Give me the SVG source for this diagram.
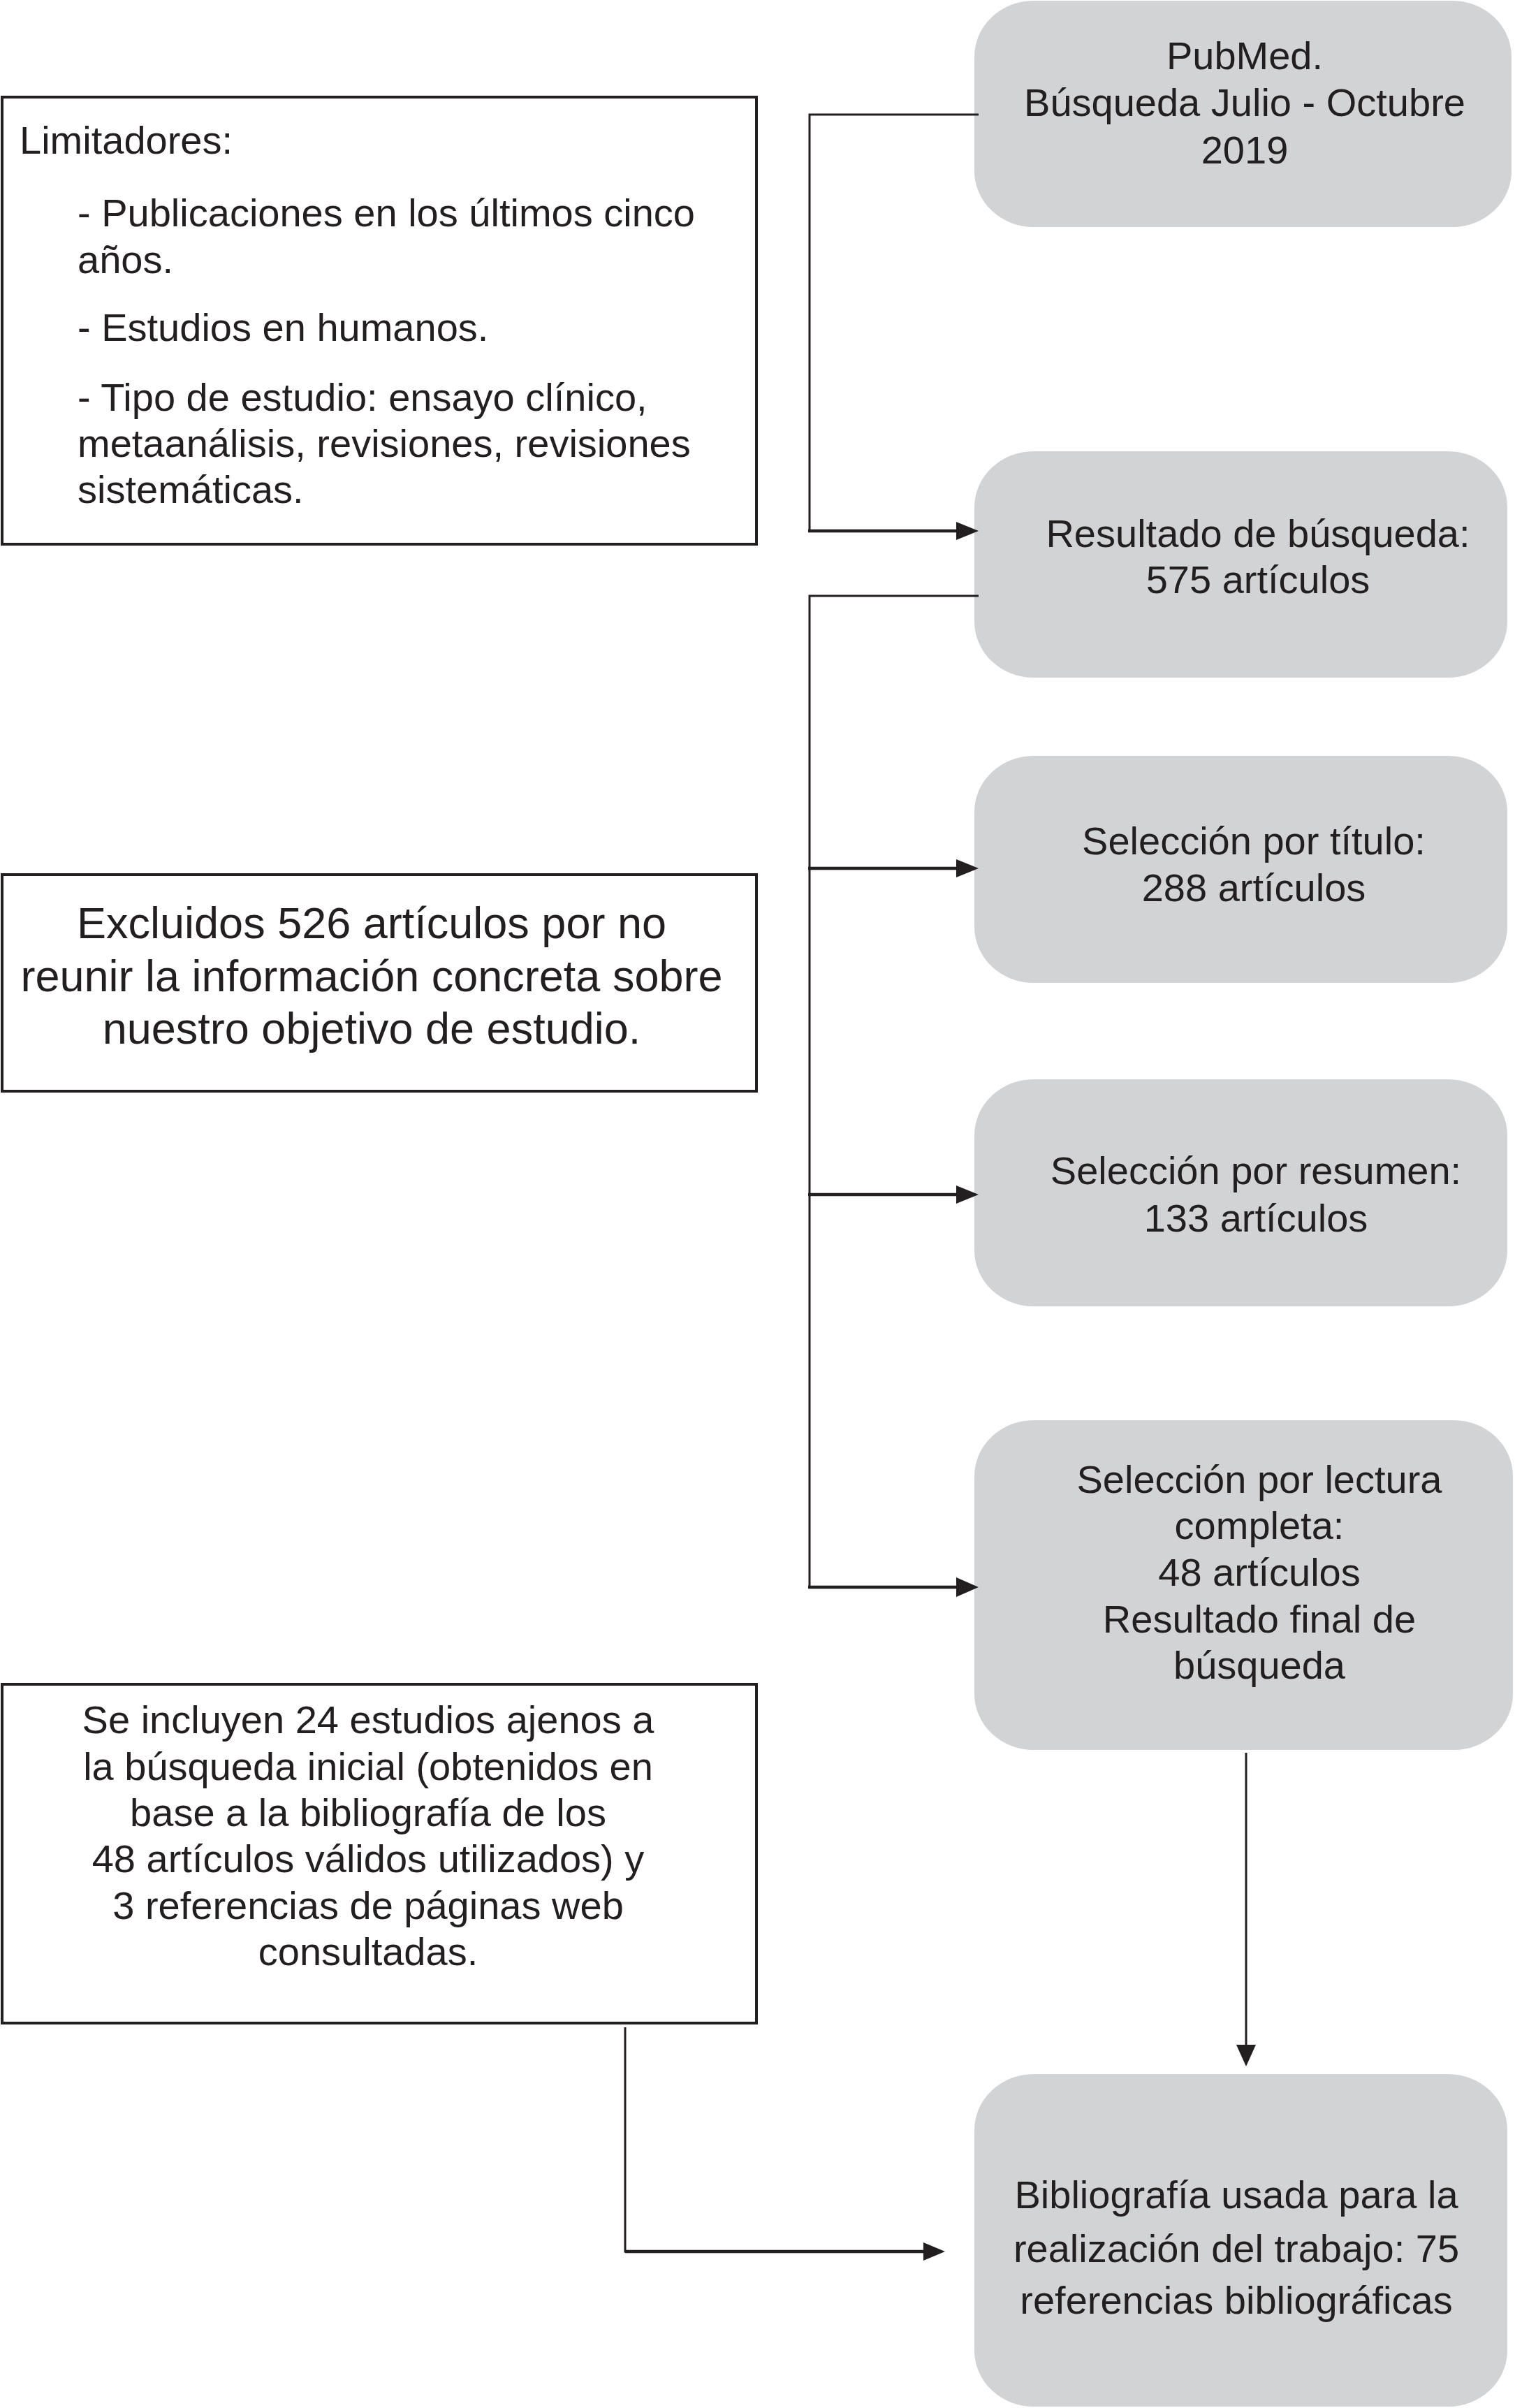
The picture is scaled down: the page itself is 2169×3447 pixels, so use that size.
<svg xmlns="http://www.w3.org/2000/svg" width="2169" height="3447" viewBox="0 0 2169 3447">
<style>
.g{fill:#d1d3d4;stroke:none}
.w{fill:#fff;stroke:#231f20;stroke-width:4}
text{font-family:"Liberation Sans",Arial,sans-serif;font-size:56px;fill:#231f20}
.c{text-anchor:middle}
.big{font-size:63px}
.ln{fill:none;stroke:#231f20;stroke-width:3}
.lh{fill:none;stroke:#231f20;stroke-width:4.5}
</style>
<defs>
<marker id="ah" markerWidth="8" markerHeight="8" refX="8" refY="4" orient="auto" markerUnits="userSpaceOnUse" viewBox="0 0 8 8">
<path d="M0,0 L8,4 L0,8 Z" fill="#231f20"/>
</marker>
</defs>
<rect width="2169" height="3447" fill="#fff"/>
<g id="pubmed">
<rect class="g" x="1395" y="1" width="769" height="324" rx="85" ry="80"/>
<text class="c" x="1782" y="99">PubMed.</text>
<text class="c" x="1782" y="166">Búsqueda Julio - Octubre</text>
<text class="c" x="1782" y="234">2019</text>
</g>
<g id="resultado">
<rect class="g" x="1395" y="646" width="763" height="324" rx="85" ry="80"/>
<text class="c" x="1801" y="783">Resultado de búsqueda:</text>
<text class="c" x="1801" y="849">575 artículos</text>
</g>
<g id="titulo">
<rect class="g" x="1395" y="1082" width="763" height="325" rx="85" ry="80"/>
<text class="c" x="1795" y="1223">Selección por título:</text>
<text class="c" x="1795" y="1290">288 artículos</text>
</g>
<g id="resumen">
<rect class="g" x="1395" y="1545" width="763" height="325" rx="85" ry="80"/>
<text class="c" x="1798" y="1695">Selección por resumen:</text>
<text class="c" x="1798" y="1763">133 artículos</text>
</g>
<g id="lectura">
<rect class="g" x="1395" y="2033" width="771" height="472" rx="85" ry="80"/>
<text class="c" x="1803" y="2137">Selección por lectura</text>
<text class="c" x="1803" y="2203">completa:</text>
<text class="c" x="1803" y="2270">48 artículos</text>
<text class="c" x="1803" y="2337">Resultado final de</text>
<text class="c" x="1803" y="2403">búsqueda</text>
</g>
<g id="bibliografia">
<rect class="g" x="1395" y="2969" width="763" height="476" rx="85" ry="80"/>
<text class="c" x="1770" y="3161">Bibliografía usada para la</text>
<text class="c" x="1770" y="3238">realización del trabajo: 75</text>
<text class="c" x="1770" y="3312">referencias bibliográficas</text>
</g>
<g id="limitadores">
<rect class="w" x="3" y="139" width="1080" height="640"/>
<text x="28" y="220">Limitadores:</text>
<text x="111" y="324">- Publicaciones en los últimos cinco</text>
<text x="111" y="391">años.</text>
<text x="111" y="488">- Estudios en humanos.</text>
<text x="111" y="588">- Tipo de estudio: ensayo clínico,</text>
<text x="111" y="654">metaanálisis, revisiones, revisiones</text>
<text x="111" y="720">sistemáticas.</text>
</g>
<g id="excluidos">
<rect class="w" x="3" y="1252" width="1080" height="310"/>
<text class="c big" x="532" y="1343">Excluidos 526 artículos por no</text>
<text class="c big" x="532" y="1419">reunir la información concreta sobre</text>
<text class="c big" x="532" y="1494">nuestro objetivo de estudio.</text>
</g>
<g id="incluyen">
<rect class="w" x="3" y="2411" width="1080" height="485"/>
<text class="c" x="527" y="2481">Se incluyen 24 estudios ajenos a</text>
<text class="c" x="527" y="2548">la búsqueda inicial (obtenidos en</text>
<text class="c" x="527" y="2614">base a la bibliografía de los</text>
<text class="c" x="527" y="2680">48 artículos válidos utilizados) y</text>
<text class="c" x="527" y="2747">3 referencias de páginas web</text>
<text class="c" x="527" y="2813">consultadas.</text>
</g>
<g id="connectors">
<polyline class="ln" points="1401,164 1159,164 1159,760"/>
<line class="lh" x1="1157" y1="760" x2="1369" y2="760"/>
<path d="M1369,747 L1401,760 L1369,773 Z" fill="#231f20"/>
<polyline class="ln" points="1401,853 1159,853 1159,2272"/>
<line class="lh" x1="1157" y1="1243" x2="1369" y2="1243"/>
<path d="M1369,1230 L1401,1243 L1369,1256 Z" fill="#231f20"/>
<line class="lh" x1="1157" y1="1710" x2="1369" y2="1710"/>
<path d="M1369,1697 L1401,1710 L1369,1723 Z" fill="#231f20"/>
<line class="lh" x1="1157" y1="2272" x2="1369" y2="2272"/>
<path d="M1369,2258 L1401,2272 L1369,2286 Z" fill="#231f20"/>
<line class="ln" x1="1784" y1="2509" x2="1784" y2="2927"/>
<path d="M1770,2927 L1784,2958 L1798,2927 Z" fill="#231f20"/>
<polyline class="ln" points="895,2902 895,3223 1322,3223"/>
<line class="lh" x1="895" y1="3223" x2="1322" y2="3223"/>
<path d="M1322,3210 L1353,3223 L1322,3236 Z" fill="#231f20"/>
</g>
</svg>
